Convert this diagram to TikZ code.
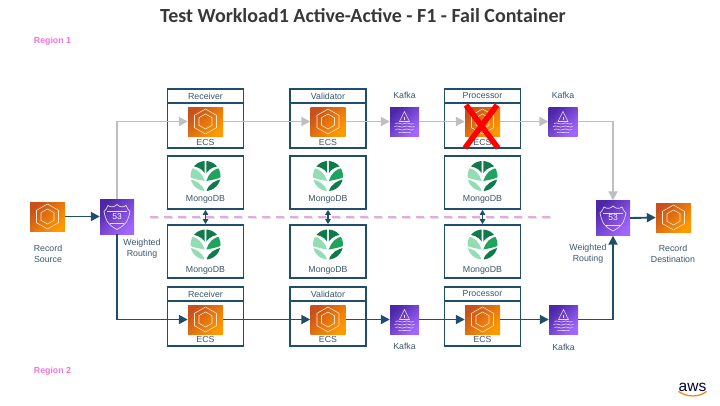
\documentclass[tikz,border=0pt]{standalone}
\usepackage{fontspec}
\setmainfont{Liberation Sans}
\newfontfamily\titlefont{Carlito}
\usepackage{tikz}
\usetikzlibrary{calc, arrows.meta}

\definecolor{boxblue}{HTML}{1F4E6B}
\definecolor{labelblue}{HTML}{3A566B}
\definecolor{flowgray}{HTML}{BFBFBF}
\definecolor{regionpink}{HTML}{F472DC}
\definecolor{splitpink}{HTML}{EBA6EA}
\definecolor{ecslow}{HTML}{C8511B}
\definecolor{ecshigh}{HTML}{FF9900}
\definecolor{netlow}{HTML}{4D27A8}
\definecolor{nethigh}{HTML}{A166FF}
\definecolor{leafdark}{HTML}{0F7A4A}
\definecolor{leafmid}{HTML}{1FA35F}
\definecolor{leaflight}{HTML}{93DDB4}

\tikzset{
    box/.style={draw=boxblue, line width=1.7pt, minimum width=76pt, inner sep=0pt},
    headbox/.style={box, minimum height=14pt, font=\fontsize{8.8}{10}\selectfont, text=labelblue},
    ecsbody/.style={box, minimum height=45pt},
    mongobox/.style={box, minimum height=53pt},
    label/.style={font=\fontsize{8.8}{11}\selectfont, text=labelblue, align=center, inner sep=0pt},
    ecs/.style={minimum width=35pt, minimum height=29pt, inner sep=0pt,
        left color=ecslow, right color=ecshigh, shading angle=45},
    kafka/.style={minimum width=29pt, minimum height=29pt, inner sep=0pt,
        left color=netlow, right color=nethigh, shading angle=45},
    route/.style={minimum width=34pt, minimum height=35pt, inner sep=0pt, text=white,
        font=\fontsize{8.5}{9}\selectfont,
        left color=netlow, right color=nethigh, shading angle=45},
    live/.style={draw=boxblue, line width=1.9pt, -{Triangle[length=9pt, width=9pt]}},
    idle/.style={draw=flowgray, line width=1.9pt, -{Triangle[length=9pt, width=9pt]}},
    both/.style={draw=boxblue, line width=1.7pt, {Triangle[length=5pt, width=5.5pt]}-{Triangle[length=5pt, width=5.5pt]}},
    ecsglyph/.pic={
        \draw[white!80!orange, line width=0.6pt]
            (0,-12.5) -- (11,-6.2) -- (11,6.2) -- (0,12.5) -- (-11,6.2) -- (-11,-6.2) -- cycle;
        \draw[white!80!orange, line width=0.6pt]
            (0,-7.5) -- (6.5,-3.8) -- (6.5,3.8) -- (0,7.5) -- (-6.5,3.8) -- (-6.5,-3.8) -- cycle;
    },
    kafkaglyph/.pic={
        \draw[white!85!violet, line width=0.6pt] (0,-10) -- (5,0) -- (-5,0) -- cycle;
        \draw[white!85!violet, line width=0.8pt] (0,-5) -- (0,-2);
        \draw[white!85!violet, line width=0.6pt]
            (-9,2) .. controls (-6,0) and (-3,4) .. (0,2) .. controls (3,0) and (6,4) .. (9,2)
            (-10,5) .. controls (-7,3) and (-3,7) .. (0,5) .. controls (3,3) and (7,7) .. (10,5)
            (-9,8) .. controls (-6,6) and (-3,10) .. (0,8) .. controls (3,6) and (6,10) .. (9,8)
            (-6,11) .. controls (-4,9.5) and (-2,12) .. (0,11) .. controls (2,9.5) and (4,12) .. (6,11);
    },
    shieldglyph/.pic={
        \draw[white!85!violet, line width=0.7pt]
            (-9,-11) .. controls (-6,-9) and (-3,-9) .. (0,-12)
            .. controls (3,-9) and (6,-9) .. (9,-11)
            .. controls (10,-8) and (12,-6) .. (13,-5)
            .. controls (11,3) and (11,7) .. (0,13)
            .. controls (-11,7) and (-11,3) .. (-13,-5)
            .. controls (-12,-6) and (-10,-8) .. cycle;
        \draw[white!85!violet, line width=0.5pt]
            (-10,-5) -- (10,-5) (-7,7) -- (7,7);
    },
    mongoglyph/.pic={
        \begin{scope}
            \clip (0,0) circle (15);
            \fill[leafdark] (-0.8,-16) -- (-0.8,-3) .. controls (-4,-8) and (-10,-10) .. (-16,-10) -- (-16,-16) -- cycle;
            \fill[leafdark] (0.8,-16) -- (0.8,-3) .. controls (4,-8) and (10,-10) .. (16,-10) -- (16,-16) -- cycle;
            \fill[leaflight] (-16,-8) .. controls (-8,-8) and (-3,-2) .. (-0.8,5) .. controls (-6,4) and (-12,3) .. (-16,1) -- cycle;
            \fill[leaflight] (-16,3) .. controls (-10,5) and (-3,7) .. (-0.8,16) -- (-16,16) -- cycle;
            \fill[leafmid] (16,-8) .. controls (8,-8) and (3,-2) .. (0.8,5) .. controls (6,4) and (12,3) .. (16,1) -- cycle;
            \fill[leafdark] (16,3) .. controls (10,5) and (3,7) .. (0.8,16) -- (16,16) -- cycle;
        \end{scope}
    }
}

\begin{document}
\begin{tikzpicture}[x=1pt, y=-1pt]
    \useasboundingbox (0,0) rectangle (720,405);

    \coordinate (splitL) at (150,217);
    \coordinate (splitR) at (551,217);

    \node[font=\titlefont\bfseries\fontsize{20}{22}\selectfont, text=black!78] (title) at (363,16)
        {Test Workload1 Active-Active - F1 - Fail Container};
    \node[font=\bfseries\fontsize{8.8}{10}\selectfont, text=regionpink, inner sep=0pt] (regionA) at (52.5,41) {Region 1};
    \node[font=\bfseries\fontsize{8.8}{10}\selectfont, text=regionpink, inner sep=0pt] (regionB) at (52.5,371) {Region 2};

    % upper row
    \node[headbox] (recvAh) at (205.5,96) {Receiver};
    \node[ecsbody] (recvAb) at (205.5,125.5) {};
    \node[headbox] (validAh) at (328,96) {Validator};
    \node[ecsbody] (validAb) at (328,125.5) {};
    \node[headbox] (procAh) at (482.5,96) {Processor};
    \node[ecsbody] (procAb) at (482.5,125.5) {};

    \node[ecs] (recvA) at (205.5,121.5) {};
    \node[ecs] (validA) at (328,121.5) {};
    \node[ecs] (procA) at (482.5,121.5) {};
    \pic at (recvA) {ecsglyph};
    \pic at (validA) {ecsglyph};
    \pic at (procA) {ecsglyph};
    \node[label] (recvAt) at (205.5,142) {ECS};
    \node[label] (validAt) at (328,142) {ECS};
    \node[label] (procAt) at (482.5,142) {ECS};

    \node[kafka] (kafkaA) at (404.5,121.5) {};
    \node[kafka] (kafkaB) at (563,121.5) {};
    \pic at (kafkaA) {kafkaglyph};
    \pic at (kafkaB) {kafkaglyph};
    \node[label] (kafkaAt) at (404.5,95) {Kafka};
    \node[label] (kafkaBt) at (563,95) {Kafka};

    % databases
    \node[mongobox] (mongoA) at (205.5,182.5) {};
    \node[mongobox] (mongoB) at (328,182.5) {};
    \node[mongobox] (mongoC) at (482.5,182.5) {};
    \node[mongobox] (mongoD) at (205.5,251.5) {};
    \node[mongobox] (mongoE) at (328,251.5) {};
    \node[mongobox] (mongoF) at (482.5,251.5) {};
    \pic at (205.5,176) {mongoglyph};
    \pic at (328,176) {mongoglyph};
    \pic at (482.5,176) {mongoglyph};
    \pic at (205.5,244.5) {mongoglyph};
    \pic at (328,244.5) {mongoglyph};
    \pic at (482.5,244.5) {mongoglyph};
    \node[label] (mongoAt) at (205.5,199) {MongoDB};
    \node[label] (mongoBt) at (328,199) {MongoDB};
    \node[label] (mongoCt) at (482.5,199) {MongoDB};
    \node[label] (mongoDt) at (205.5,270) {MongoDB};
    \node[label] (mongoEt) at (328,270) {MongoDB};
    \node[label] (mongoFt) at (482.5,270) {MongoDB};

    % lower row
    \node[headbox] (recvBh) at (205.5,294) {Receiver};
    \node[ecsbody] (recvBb) at (205.5,323.5) {};
    \node[headbox] (validBh) at (328,294) {Validator};
    \node[ecsbody] (validBb) at (328,323.5) {};
    \node[headbox] (procBh) at (482.5,294) {Processor};
    \node[ecsbody] (procBb) at (482.5,323.5) {};

    \node[ecs] (recvB) at (205.5,319.5) {};
    \node[ecs] (validB) at (328,319.5) {};
    \node[ecs] (procB) at (482.5,319.5) {};
    \pic at (recvB) {ecsglyph};
    \pic at (validB) {ecsglyph};
    \pic at (procB) {ecsglyph};
    \node[label] (recvBt) at (205.5,339) {ECS};
    \node[label] (validBt) at (328,339) {ECS};
    \node[label] (procBt) at (482.5,339) {ECS};

    \node[kafka] (kafkaC) at (404.5,319.5) {};
    \node[kafka] (kafkaD) at (563.5,319.5) {};
    \pic at (kafkaC) {kafkaglyph};
    \pic at (kafkaD) {kafkaglyph};
    \node[label] (kafkaCt) at (404.5,346) {Kafka};
    \node[label] (kafkaDt) at (563.5,347) {Kafka};

    % both ends
    \node[ecs] (source) at (47.5,216.5) {};
    \node[route] (routeA) at (117,216.5) {53};
    \node[route] (routeB) at (613,218) {53};
    \node[ecs] (sink) at (673.5,217.5) {};
    \pic at (source) {ecsglyph};
    \pic at (sink) {ecsglyph};
    \pic at (routeA) {shieldglyph};
    \pic at (routeB) {shieldglyph};
    \node[label] (sourcet) at (48,253.5) {Record\\Source};
    \node[label] (routeAt) at (142,248.5) {Weighted\\Routing};
    \node[label] (routeBt) at (588,253.5) {Weighted\\Routing};
    \node[label] (sinkt) at (673,253.5) {Record\\Destination};

    \draw[black, opacity=0.12, line width=2.6pt, dash pattern=on 8pt off 6pt]
        ($(splitL)+(0.5,1)$) -- ($(splitR)+(0.5,1)$);
    \draw[splitpink, line width=2.6pt, dash pattern=on 8pt off 6pt] (splitL) -- (splitR);

    \draw[both] (mongoA) -- (mongoD);
    \draw[both] (mongoB) -- (mongoE);
    \draw[both] (mongoC) -- (mongoF);

    \draw[idle] (routeA.north) |- (recvA.west);
    \draw[idle] (recvA.east) -- (validA.west);
    \draw[idle] (validA.east) -- (kafkaA.west);
    \draw[idle] (kafkaA.east) -- (procA.west);
    \draw[idle] (procA.east) -- (kafkaB.west);
    \draw[idle] (kafkaB.east) -| (routeB.north);

    \draw[live] (source.east) -- (routeA.west);
    \draw[live] (routeA.south) |- (recvB.west);
    \draw[live] (recvB.east) -- (validB.west);
    \draw[live] (validB.east) -- (kafkaC.west);
    \draw[live] (kafkaC.east) -- (procB.west);
    \draw[live] (procB.east) -- (kafkaD.west);
    \draw[live] (kafkaD.east) -| (routeB.south);
    \draw[live] (routeB.east) -- (sink.west);

    % failed container
    \coordinate (failNW) at (466,105);
    \coordinate (failNE) at (497,105);
    \coordinate (failSW) at (465,148);
    \coordinate (failSE) at (498,148);
    \draw[red, line width=5.5pt] (failNW) -- (failSE);
    \draw[red, line width=5.5pt] (failNE) -- (failSW);

    \node[font=\fontsize{15.5}{16}\selectfont, text=black!80!blue, inner sep=0pt] (aws) at (692.5,387) {aws};
    \draw[orange, line width=1.2pt] (aws.south west) .. controls ($(aws.south)+(-5,6)$) and ($(aws.south)+(6,6)$) .. (aws.south east);
\end{tikzpicture}
\end{document}
